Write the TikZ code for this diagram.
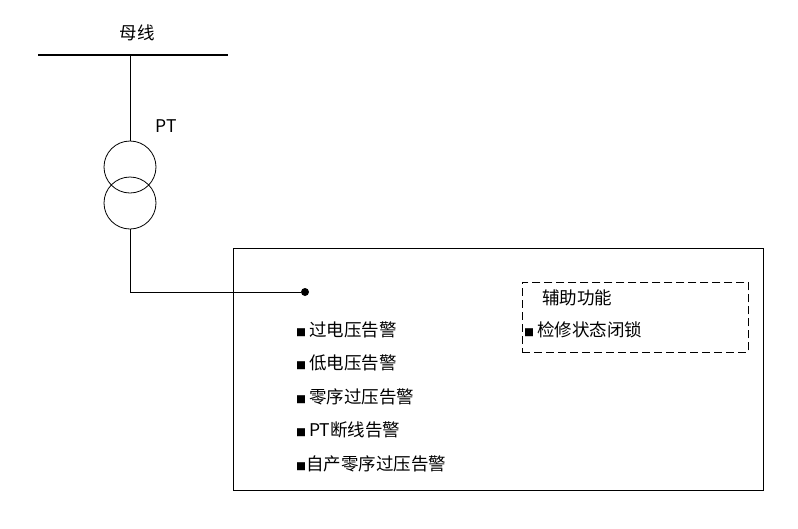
\documentclass[tikz,border=0pt]{standalone}
\usepackage{fontspec}
\setmainfont{Noto Sans CJK SC}
\usetikzlibrary{positioning}
\newcommand{\sq}{{\fontsize{10}{10}\selectfont ■}}
\begin{document}
\begin{tikzpicture}[x=1pt,y=-1pt,
    line/.style={line width=0.8pt},
    item/.style={anchor=west, font=\fontsize{17.5}{19}\selectfont, inner sep=0pt}
]
    \useasboundingbox (0,0) rectangle (798,528);
    % Bus bar
    \coordinate (busL) at (38,55);
    \coordinate (busR) at (228,55);
    \draw[line width=1.6pt] (busL) -- (busR);
    \node[item, anchor=center] (bus) at (137,33) {母线};
    % PT
    \coordinate (top) at (130,55);
    \node[circle, draw, line width=0.8pt, minimum size=52pt, inner sep=0pt] (c1) at (130,167) {};
    \node[circle, draw, line width=0.8pt, minimum size=52pt, inner sep=0pt] (c2) at (130,203) {};
    \node[item, anchor=center] (pt) at (166,126) {PT};
    \coordinate (bend) at (130,292);
    \node[circle, fill, inner sep=0pt, minimum size=8pt] (dot) at (305,292) {};
    \draw[line] (top) -- (c1.north);
    \draw[line] (c2.south) -- (bend) -- (dot);
    % Protection box
    \node[draw, line, minimum width=530pt, minimum height=242pt, anchor=north west] (box) at (233,248) {};
    \node[draw, line, dashed, dash pattern=on 8pt off 4pt, minimum width=226pt, minimum height=70pt, anchor=north west] (aux) at (522,282) {};
    \node[item] (auxt) at (542,298) {辅助功能};
    \node[item] (aux1) at (524,330) {\sq\,检修状态闭锁};
    % Alarm list
    \foreach \t [count=\i] in {\sq\,过电压告警, \sq\,低电压告警, \sq\,零序过压告警, \sq\,PT断线告警, \sq 自产零序过压告警}
        \node[item] (a\i) at (296,296+33.5*\i) {\t};
\end{tikzpicture}
\end{document}
